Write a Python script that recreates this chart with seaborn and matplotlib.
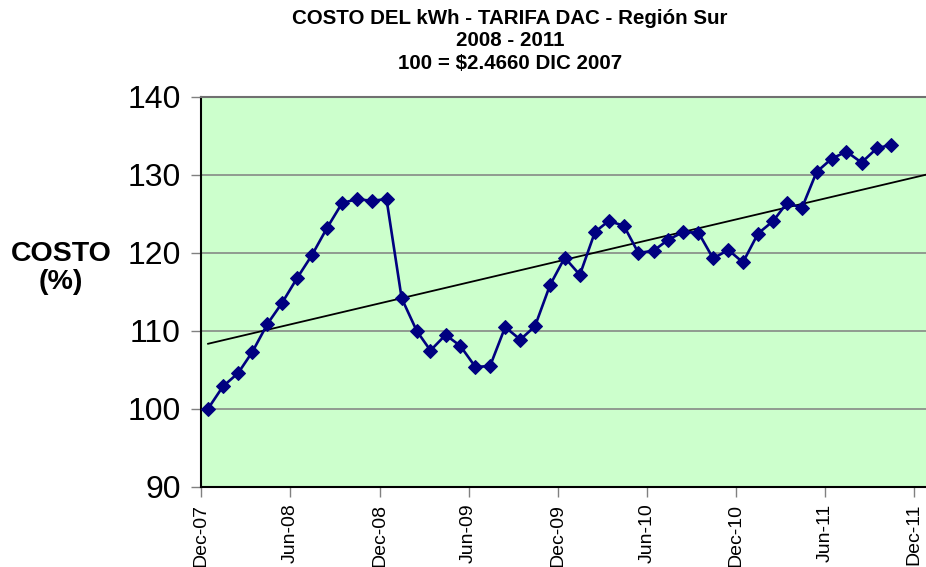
import numpy as np
import pandas as pd
import matplotlib
matplotlib.use("Agg")
import matplotlib.pyplot as plt
import matplotlib.dates as mdates
import seaborn as sns

# ---- data ----
start_month = "2007-12-01"
end_month = "2011-10-01"
costo = [100.0, 102.9, 104.6, 107.3, 110.9, 113.6, 116.8, 119.7, 123.2, 126.4,
         126.9, 126.7, 126.9, 114.2, 110.0, 107.5, 109.5, 108.1, 105.4, 105.5,
         110.5, 108.9, 110.6, 115.9, 119.4, 117.2, 122.7, 124.1, 123.5, 120.0,
         120.3, 121.7, 122.7, 122.6, 119.3, 120.4, 118.8, 122.5, 124.1, 126.4,
         125.8, 130.4, 132.1, 133.0, 131.6, 133.4, 133.9]
y_ticks = [90, 100, 110, 120, 130, 140]
title_lines = ["COSTO DEL kWh - TARIFA DAC - Región Sur", "2008 - 2011", "100 = $2.4660 DIC 2007"]
ylabel_text = "COSTO\n(%)"

months = pd.date_range(start_month, end_month, freq="MS") + pd.Timedelta(days=14)
df = pd.DataFrame({"fecha": months, "costo": costo})

sns.set_style("white")
plt.rcParams["font.family"] = ["Liberation Sans", "DejaVu Sans"]
plt.rcParams["text.color"] = "black"
plt.rcParams["xtick.labelcolor"] = "black"
plt.rcParams["ytick.labelcolor"] = "black"

W, H = 926, 567
fig = plt.figure(figsize=(W / 100, H / 100), dpi=100)
ax = fig.add_axes([201 / W, (H - 487) / H, (W - 201) / W, 390 / H])
ax.set_facecolor("#CCFFCC")

x_left = pd.Timestamp("2007-12-01")
x_right = pd.Timestamp("2011-12-25")
ax.set_xlim(x_left, x_right)
ax.set_ylim(90, 140)

# horizontal gridlines
for yv in y_ticks[1:-1]:
    ax.axhline(yv, color="#808080", lw=1.1, zorder=1)

# trend line (linear least squares, extended forward)
xn = mdates.date2num(df["fecha"])
slope, intercept = np.polyfit(xn, df["costo"].to_numpy(), 1)
tx = np.array([xn[0], mdates.date2num(x_right) + 5])
trend = pd.DataFrame({"fecha": mdates.num2date(tx), "costo": slope * tx + intercept})
trend["fecha"] = pd.to_datetime(trend["fecha"]).dt.tz_localize(None)
sns.lineplot(data=trend, x="fecha", y="costo", ax=ax, color="black", lw=1.3, zorder=2)

sns.lineplot(data=df, x="fecha", y="costo", ax=ax, color="#000080", lw=1.9,
             marker="D", markersize=7.5, markeredgecolor="#000080",
             markerfacecolor="#000080", zorder=3)

ax.set_yticks(y_ticks)
ax.xaxis.set_major_locator(mdates.MonthLocator(bymonth=[6, 12], bymonthday=1))
ax.xaxis.set_major_formatter(mdates.DateFormatter("%b-%y"))
ax.tick_params(axis="y", which="major", direction="out", length=7, width=1,
               color="#808080", labelcolor="black", labelsize=23, pad=7.5, left=True)
ax.tick_params(axis="x", which="major", direction="out", length=7, width=1,
               color="#808080", labelcolor="black", labelsize=14, pad=5,
               bottom=True, labelrotation=90)
ax.set_xlabel("")
ax.set_ylabel("")

for side in ["left", "bottom"]:
    ax.spines[side].set_visible(True)
    ax.spines[side].set_color("black")
    ax.spines[side].set_linewidth(1.5)
ax.spines["top"].set_color("#707070")
ax.spines["top"].set_linewidth(1.5)
ax.spines["right"].set_visible(False)

fig.text(510 / W, 1 - 41 / H, "\n".join(title_lines), ha="center", va="center",
         fontsize=14.8, fontweight="bold", linespacing=1.22, color="black")
fig.text(61 / W, 1 - 268 / H, ylabel_text, ha="center", va="center",
         fontsize=20.5, fontweight="bold", linespacing=1.1, color="black")

fig.savefig("out.png", dpi=100)
